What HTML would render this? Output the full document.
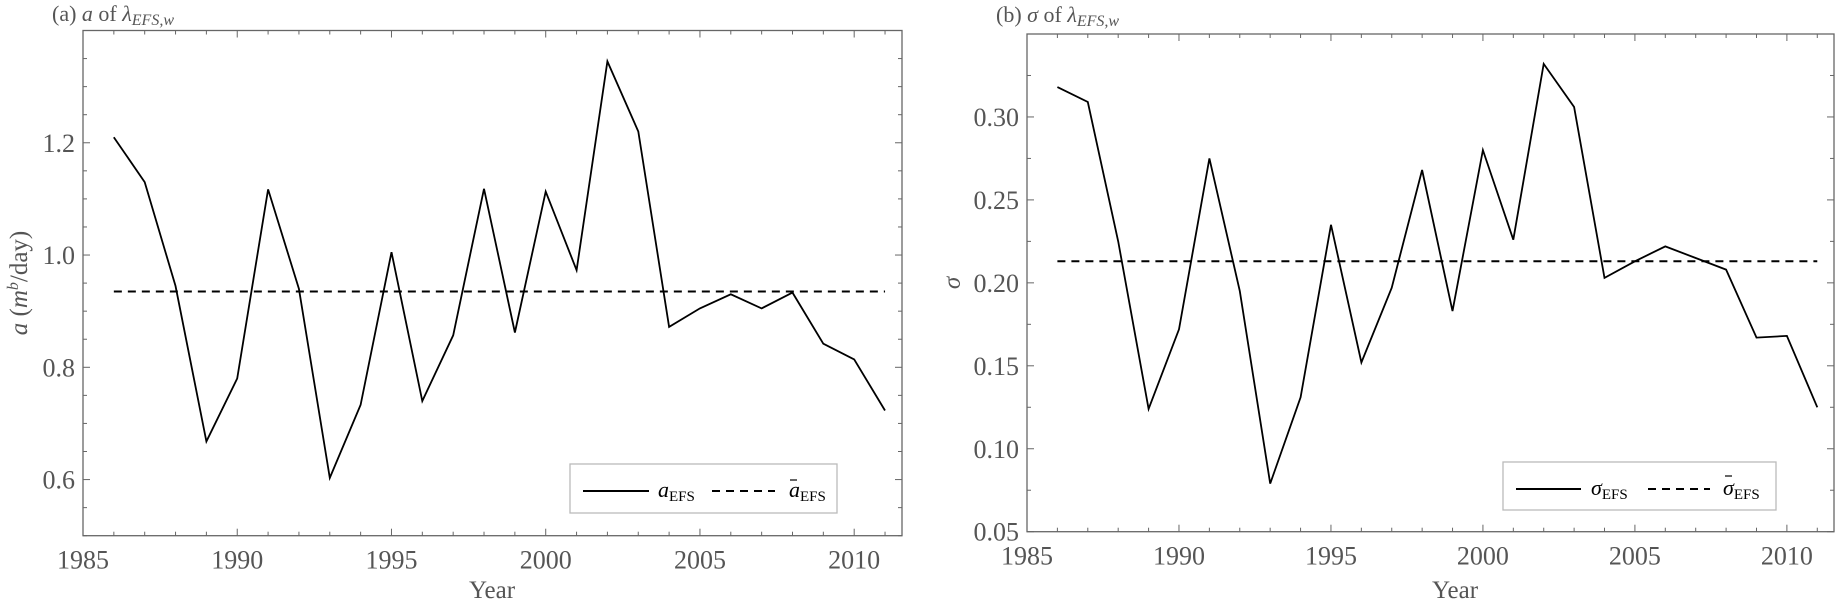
<!DOCTYPE html>
<html><head><meta charset="utf-8"><style>
body{margin:0;background:#fff}
svg{display:block}
text{font-family:"Liberation Serif",serif}
</style></head><body>
<svg id="chart" width="1835" height="605" viewBox="0 0 1835 605" xmlns="http://www.w3.org/2000/svg"></svg>
<script>
const years = [1986,1987,1988,1989,1990,1991,1992,1993,1994,1995,1996,1997,1998,1999,2000,2001,2002,2003,2004,2005,2006,2007,2008,2009,2010,2011];
const aValues = [1.21,1.13,0.945,0.668,0.78,1.117,0.94,0.603,0.733,1.005,0.74,0.857,1.118,0.862,1.113,0.973,1.345,1.22,0.872,0.905,0.93,0.905,0.933,0.842,0.814,0.723];
const aMean = [0.935];
const aTicks = [0.6,0.8,1.0,1.2];
const aTickLabels = ["0.6","0.8","1.0","1.2"];
const sValues = [0.318,0.309,0.225,0.124,0.172,0.275,0.195,0.079,0.131,0.235,0.152,0.197,0.268,0.183,0.280,0.226,0.332,0.306,0.203,0.213,0.222,0.215,0.208,0.167,0.168,0.125];
const sMean = [0.213];
const sTicks = [0.05,0.10,0.15,0.20,0.25,0.30];
const sTickLabels = ["0.05","0.10","0.15","0.20","0.25","0.30"];
const xTicks = [1985,1990,1995,2000,2005,2010];
const xTickLabels = ["1985","1990","1995","2000","2005","2010"];

const svg = document.getElementById('chart');
const NS = 'http://www.w3.org/2000/svg';
function mk(tag, attrs, parent){const e=document.createElementNS(NS,tag);for(const k in attrs)e.setAttribute(k,attrs[k]);(parent||svg).appendChild(e);return e;}

function panel(cfg){
  const g = mk('g',{});
  
  
  const {x0,x1,y0,y1,xmin,xmax,ymin,ymax} = cfg;
  const X = v => x0 + (v - xmin)/(xmax - xmin)*(x1 - x0);
  const Y = v => y1 - (v - ymin)/(ymax - ymin)*(y1 - y0);
  const frame = mk('rect',{x:x0,y:y0,width:x1-x0,height:y1-y0,fill:'none',stroke:'#666','stroke-width':1.3},g);
  
  
  for(let yr=Math.ceil(xmin); yr<=xmax; yr++){
    const major = yr%5===0, L = major?7:4, px=X(yr);
    mk('line',{x1:px,x2:px,y1:y1,y2:y1-L,stroke:'#666','stroke-width':1},g);
    mk('line',{x1:px,x2:px,y1:y0,y2:y0+L,stroke:'#666','stroke-width':1},g);
  }
  xTicks.forEach((t,i)=>{
    const tl = mk('text',{x:X(t),y:y1+33,'text-anchor':'middle','font-size':26,fill:'#555'},g);
    tl.textContent = xTickLabels[i];
    
    
  });
  const n = Math.round((ymax-ymin)/cfg.minor);
  for(let i=0;i<=n;i++){
    const v = ymin + i*cfg.minor, py=Y(v);
    const major = cfg.ticks.some(t=>Math.abs(t-v)<1e-9), L = major?7:4;
    mk('line',{x1:x0,x2:x0+L,y1:py,y2:py,stroke:'#666','stroke-width':1},g);
    mk('line',{x1:x1,x2:x1-L,y1:py,y2:py,stroke:'#666','stroke-width':1},g);
  }
  cfg.ticks.forEach((t,i)=>{
    const tl = mk('text',{x:x0-8,y:Y(t)+9,'text-anchor':'end','font-size':26,fill:'#555'},g);
    tl.textContent = cfg.tickLabels[i];
    
    
  });
  const ml = mk('line',{x1:X(years[0]),x2:X(years[years.length-1]),y1:Y(cfg.mean[0]),y2:Y(cfg.mean[0]),stroke:'#000','stroke-width':2,'stroke-dasharray':'8,6'},g);
  
  
  const pts = years.map((yr,i)=>X(yr).toFixed(1)+','+Y(cfg.values[i]).toFixed(1)).join(' ');
  const sl = mk('polyline',{points:pts,fill:'none',stroke:'#000','stroke-width':1.8},g);
  
  
  return g;
}

panel({name:'panel-a',x0:83,x1:902,y0:30.5,y1:535.7,xmin:1985,xmax:2011.55,ymin:0.5,ymax:1.4,minor:0.05,ticks:aTicks,tickLabels:aTickLabels,values:aValues,mean:aMean});
panel({name:'panel-b',x0:1027,x1:1834,y0:34,y1:531.7,xmin:1985,xmax:2011.55,ymin:0.05,ymax:0.35,minor:0.025,ticks:sTicks,tickLabels:sTickLabels,values:sValues,mean:sMean});
</script>
<svg width="1835" height="605" style="position:absolute;left:0;top:0" xmlns="http://www.w3.org/2000/svg">
  <text x="52" y="21" font-size="22" fill="#555">(a) <tspan font-style="italic">a</tspan> of <tspan font-style="italic">λ</tspan><tspan font-style="italic" font-size="16" dy="4">EFS,w</tspan></text>
  <text x="996" y="22" font-size="22" fill="#555">(b) <tspan font-style="italic">σ</tspan> of <tspan font-style="italic">λ</tspan><tspan font-style="italic" font-size="16" dy="4">EFS,w</tspan></text>
  <text transform="translate(27,283) rotate(-90)" text-anchor="middle" font-size="25" fill="#555"><tspan font-style="italic">a</tspan> (<tspan font-style="italic">m</tspan><tspan font-style="italic" font-size="16" dy="-9">b</tspan><tspan dy="9">/day)</tspan></text>
  <text transform="translate(960,283) rotate(-90)" text-anchor="middle" font-size="25" fill="#555" font-style="italic">σ</text>
  <text x="492" y="598" text-anchor="middle" font-size="25" fill="#555">Year</text>
  <text x="1455" y="598" text-anchor="middle" font-size="25" fill="#555">Year</text>
  <g>
    <rect x="570" y="464" width="267" height="49" fill="#fff" stroke="#bbb" stroke-width="1.3"/>
    <line x1="583" y1="491" x2="649" y2="491" stroke="#000" stroke-width="2"/>
    <text x="658" y="497" font-size="22" font-style="italic">a<tspan font-style="normal" font-size="15" dy="4">EFS</tspan></text>
    <line x1="712" y1="491" x2="775" y2="491" stroke="#000" stroke-width="2" stroke-dasharray="8,6"/>
    <text x="789" y="497" font-size="22" font-style="italic">a<tspan font-style="normal" font-size="15" dy="4">EFS</tspan></text>
    <line x1="790" y1="480" x2="797" y2="480" stroke="#000" stroke-width="1.2"/>
  </g>
  <g>
    <rect x="1503" y="462" width="273" height="48" fill="#fff" stroke="#bbb" stroke-width="1.3"/>
    <line x1="1516" y1="489" x2="1581" y2="489" stroke="#000" stroke-width="2"/>
    <text x="1591" y="495" font-size="22" font-style="italic">σ<tspan font-style="normal" font-size="15" dy="4">EFS</tspan></text>
    <line x1="1648" y1="489" x2="1710" y2="489" stroke="#000" stroke-width="2" stroke-dasharray="8,6"/>
    <text x="1723" y="495" font-size="22" font-style="italic">σ<tspan font-style="normal" font-size="15" dy="4">EFS</tspan></text>
    <line x1="1725" y1="476" x2="1732" y2="476" stroke="#000" stroke-width="1.2"/>
  </g>
</svg>
</body></html>
